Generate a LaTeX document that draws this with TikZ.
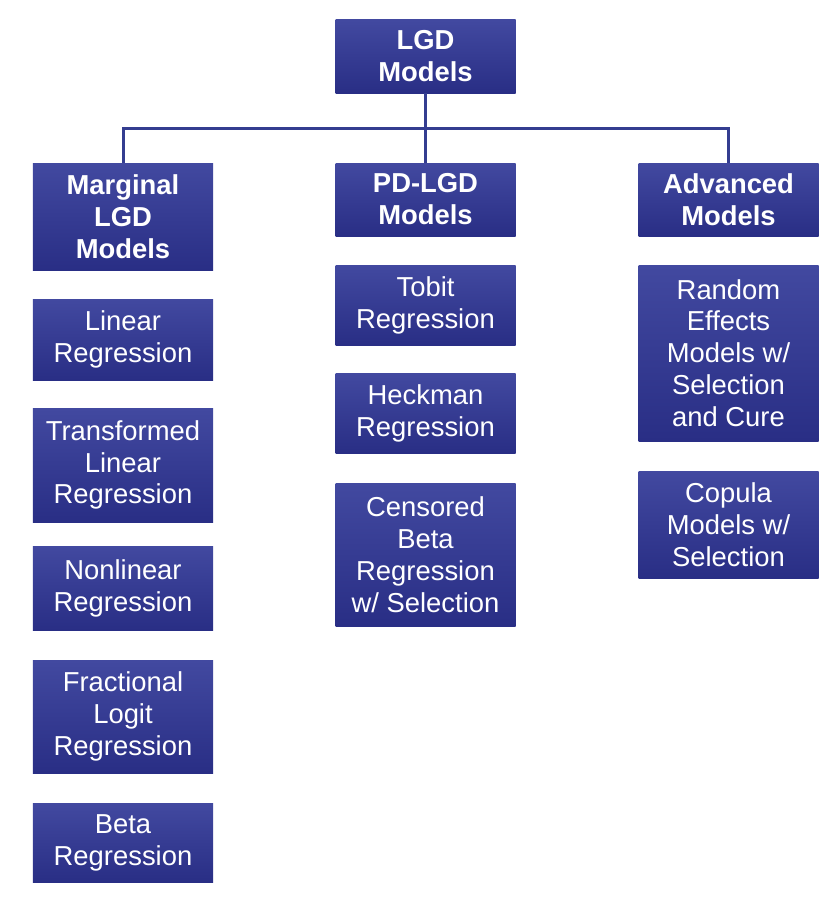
\documentclass[tikz,border=0pt]{standalone}
\usepackage{fontspec}
\setmainfont{Liberation Sans}
\usepackage{tikz}
\usetikzlibrary{positioning,calc}
\usepackage{xcolor}
\definecolor{boxtop}{HTML}{4249A0}
\definecolor{boxbot}{HTML}{292E85}
\definecolor{wire}{HTML}{343D90}

\begin{document}
\begin{tikzpicture}[x=1bp,y=-1bp,
    model/.style={shade,top color=boxtop,bottom color=boxbot,text=white,
      align=center,inner sep=0pt,minimum width=180bp,
      font=\fontsize{27.5}{32}\selectfont},
    head/.style={model,font=\fontsize{27.5}{32}\selectfont\bfseries},
    link/.style={wire,line width=3bp}]
  \useasboundingbox (0,0) rectangle (832,908);
  % root and the three groups
  \node[head,minimum height=73bp] (lgd) at (425.5,56.5) {LGD\\Models};
  \node[head,minimum height=107bp] (marg) at (123,216.5) {Marginal\\LGD\\Models};
  \node[head,minimum height=73bp] (pdlgd) at (425.5,199.5) {PD-LGD\\Models};
  \node[head,minimum height=73bp] (adv) at (728.5,199.5) {Advanced\\Models};
  % marginal column
  \node[model,minimum height=81bp] (lin) at (123,339.5) {Linear\\Regression};
  \node[model,minimum height=114bp] (trans) at (123,465) {Transformed\\Linear\\Regression};
  \node[model,minimum height=84bp] (nonlin) at (123,588) {Nonlinear\\Regression};
  \node[model,minimum height=113bp] (frac) at (123,716.5) {Fractional\\Logit\\Regression};
  \node[model,minimum height=79bp] (beta) at (123,842.5) {Beta\\Regression};
  % pd-lgd column
  \node[model,minimum height=80bp] (tobit) at (425.5,305) {Tobit\\Regression};
  \node[model,minimum height=80bp] (heck) at (425.5,413) {Heckman\\Regression};
  \node[model,minimum height=143bp] (cens) at (425.5,554.5) {Censored\\Beta\\Regression\\w/ Selection};
  % advanced column
  \node[model,minimum height=176bp] (rand) at (728.5,353) {Random\\Effects\\Models w/\\Selection\\and Cure};
  \node[model,minimum height=107bp] (cop) at (728.5,524.5) {Copula\\Models w/\\Selection};
  % connectors
  \coordinate (bar) at (425.5,128);
  \draw[link] (lgd.south) -- (pdlgd.north);
  \draw[link] (bar) -| (marg.north);
  \draw[link] (bar) -| (adv.north);
\end{tikzpicture}
\end{document}
